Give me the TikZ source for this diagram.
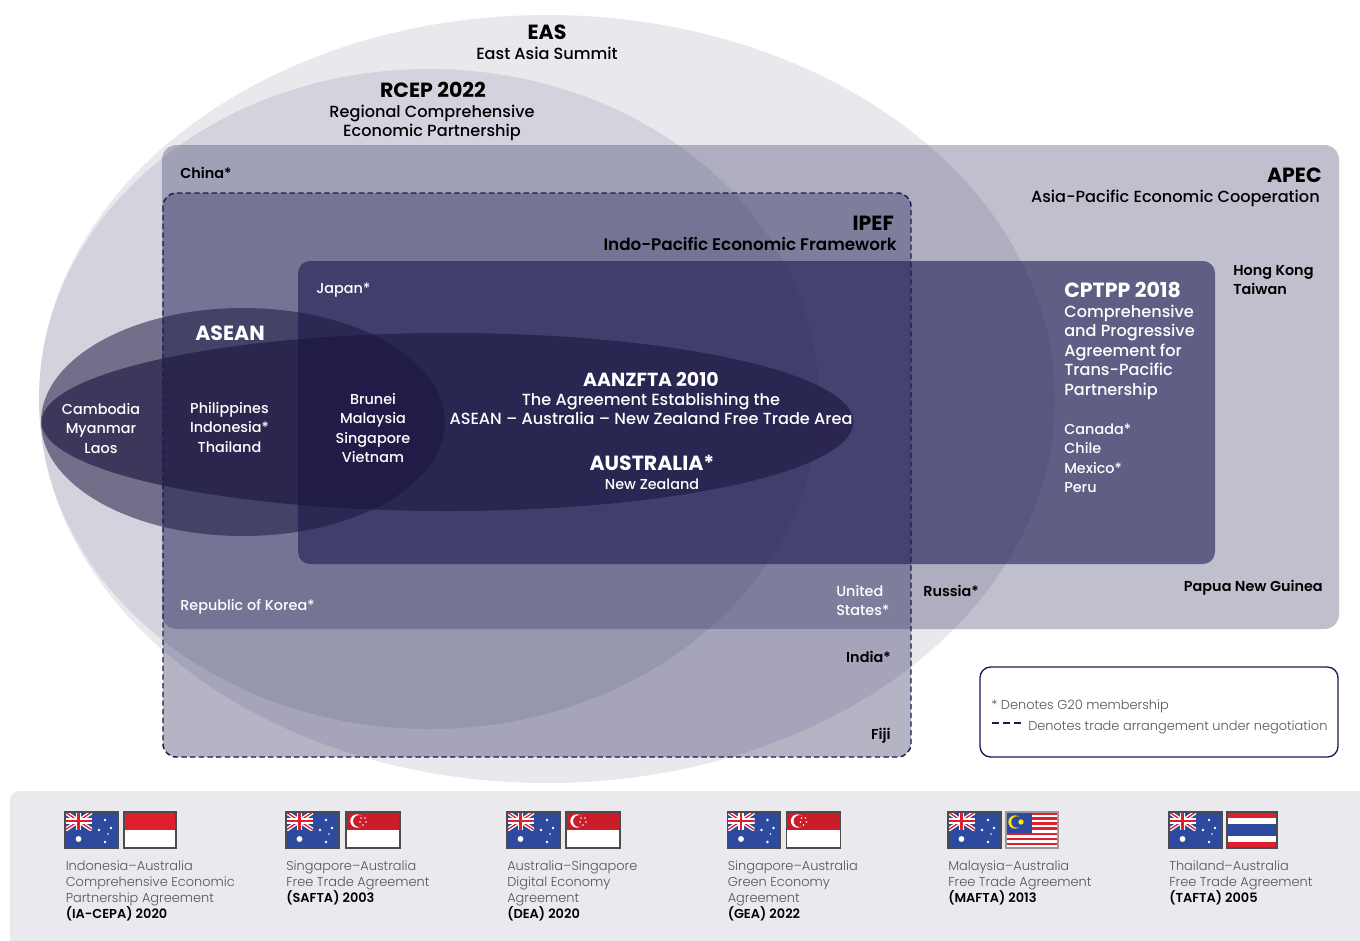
\documentclass[tikz,border=0pt]{standalone}
\usepackage{fontspec}
\setmainfont{Poppins}
\newfontfamily\medfont{Poppins Medium}
\newfontfamily\lightfont{Poppins Light}
\newfontfamily\semifont{Poppins SemiBold}

\definecolor{navy}{HTML}{1B1A50}
\definecolor{deepnavy}{HTML}{1B1640}
\definecolor{stripgrey}{HTML}{E9E9EE}
\definecolor{flagblue}{HTML}{2E4A9E}
\definecolor{flagred}{HTML}{E01F2D}
\definecolor{greytext}{HTML}{555555}

\tikzset{
  title/.style={font=\fontsize{15.4}{17}\bfseries, inner sep=0pt},
  subtitle/.style={font=\fontsize{12.1}{14.6}\medfont, inner sep=0pt, align=center},
  member/.style={font=\fontsize{10.8}{14.6}\medfont, inner sep=0pt, align=center},
  blackmember/.style={member, font=\fontsize{10.8}{14.6}\semifont, text=black},
  whitemember/.style={member, text=white},
  deal/.style={font=\fontsize{9.7}{12.2}\lightfont, inner sep=0pt, align=left, anchor=north west, text=greytext},
  flagedge/.style={draw=black!70, line width=0.8pt}
}

% Flags, corner at top left, 53 by 36
\newcommand{\ausflag}[2]{
  \begin{scope}[shift={(#1,#2)}]
    \fill[flagblue] (0,0) rectangle (53,36);
    \begin{scope}
      \clip (0,0) rectangle (27,18);
      \draw[white, line width=3pt] (0,0) -- (27,18) (0,18) -- (27,0);
      \draw[flagred, line width=1pt] (0,0) -- (27,18) (0,18) -- (27,0);
      \draw[white, line width=4pt] (13.5,0) -- (13.5,18) (0,9) -- (27,9);
      \draw[flagred, line width=2.2pt] (13.5,0) -- (13.5,18) (0,9) -- (27,9);
    \end{scope}
    \fill[white] (13.5,27) circle (2.2pt);
    \fill[white] (40,8) circle (1.1pt) (40,30) circle (1.1pt) (34,18) circle (1.1pt) (46,16) circle (1.1pt) (43,22) circle (0.6pt);
    \draw[flagedge] (0,0) rectangle (53,36);
  \end{scope}
}
\newcommand{\idflag}[2]{
  \begin{scope}[shift={(#1,#2)}]
    \fill[flagred] (0,0) rectangle (52,18);
    \fill[white] (0,18) rectangle (52,36);
    \draw[flagedge] (0,0) rectangle (52,36);
  \end{scope}
}
\newcommand{\sgflag}[2]{
  \begin{scope}[shift={(#1,#2)}]
    \fill[flagred!90!black] (0,0) rectangle (54,18);
    \fill[white] (0,18) rectangle (54,36);
    \fill[white] (11,9) circle (5pt);
    \fill[flagred!90!black] (13,9) circle (4.4pt);
    \fill[white] (15,6) circle (0.7pt) (19,6) circle (0.7pt) (14,10) circle (0.7pt) (20,10) circle (0.7pt) (17,13) circle (0.7pt);
    \draw[flagedge] (0,0) rectangle (54,36);
  \end{scope}
}
\newcommand{\myflag}[2]{
  \begin{scope}[shift={(#1,#2)}]
    \fill[white] (0,0) rectangle (52,36);
    \foreach \i in {0,2,...,12} {
      \fill[flagred] (0,{\i*36/14}) rectangle (52,{(\i+1)*36/14});
    }
    \fill[flagblue] (0,0) rectangle (26,20.5);
    \fill[yellow!90!orange] (9,10) circle (5pt);
    \fill[flagblue] (11,10) circle (4.3pt);
    \fill[yellow!90!orange] (15,10) circle (2pt);
    \draw[flagedge, draw=black!40] (0,0) rectangle (52,36);
  \end{scope}
}
\newcommand{\thflag}[2]{
  \begin{scope}[shift={(#1,#2)}]
    \fill[flagred] (0,0) rectangle (50,36);
    \fill[white] (0,6) rectangle (50,30);
    \fill[flagblue] (0,12) rectangle (50,24);
    \draw[flagedge] (0,0) rectangle (50,36);
  \end{scope}
}

\begin{document}
\begin{tikzpicture}[x=0.75pt, y=-0.75pt]
\useasboundingbox (0,0) rectangle (1360,940);

% Sets
\fill[navy, opacity=0.1] (547,399) ellipse [x radius=508, y radius=384];
\fill[navy, opacity=0.1] (429,399) ellipse [x radius=390, y radius=330];
\fill[navy, opacity=0.28, rounded corners=11pt] (162,145) rectangle (1339,629);
\fill[navy, opacity=0.33, rounded corners=10pt] (163,193) rectangle (911,757);
\fill[navy, opacity=0.59, rounded corners=9pt] (298,261) rectangle (1215,564);
\fill[deepnavy, opacity=0.53] (243,422) ellipse [x radius=202, y radius=114];
\fill[deepnavy, opacity=0.62] (447.5,422) ellipse [x radius=406, y radius=89];
\draw[navy, line width=1.1pt, dash pattern=on 4pt off 2.5pt, rounded corners=10pt] (163,193) rectangle (911,757);

% EAS
\node[title] (eas) at (547,32) {EAS};
\node[subtitle] (eastext) at (547,53) {East Asia Summit};

% RCEP
\node[title] (rcep) at (433,90) {RCEP 2022};
\node[subtitle] (rceptext) at (432,123) {Regional Comprehensive\\Economic Partnership};
\node[blackmember, anchor=west] (china) at (180,173) {China*};

% APEC
\node[title, anchor=east] (apec) at (1322,175) {APEC};
\node[subtitle, anchor=east] (apectext) at (1320,198) {Asia-Pacific Economic Cooperation};
\node[blackmember, anchor=west, align=left] (hongkong) at (1233,280) {Hong Kong\\Taiwan};
\node[blackmember, anchor=east] (png) at (1323,587.5) {Papua New Guinea};
\node[blackmember, anchor=west] (russia) at (923,591) {Russia*};

% IPEF
\node[title, anchor=east] (ipef) at (894,223) {IPEF};
\node[subtitle, anchor=east, font=\fontsize{12.6}{14.6}\semifont] (ipeftext) at (897,244) {Indo-Pacific Economic Framework};
\node[whitemember, anchor=west] (korea) at (180,607) {Republic of Korea*};
\node[whitemember, anchor=west, align=left] (usa) at (836,600.5) {United\\States*};
\node[blackmember, anchor=east] (india) at (891,657) {India*};
\node[blackmember, anchor=east] (fiji) at (891,735.5) {Fiji};

% CPTPP
\node[title, anchor=west, text=white] (cptpp) at (1064,290) {CPTPP 2018};
\node[subtitle, anchor=west, align=left, text=white] (cptpptext) at (1064,352) {Comprehensive\\and Progressive\\Agreement for\\Trans-Pacific\\Partnership};
\node[whitemember, anchor=west, align=left] (canada) at (1064,458) {Canada*\\Chile\\Mexico*\\Peru};
\node[whitemember, anchor=west] (japan) at (316,290) {Japan*};

% ASEAN
\node[title, text=white] (asean) at (230,333) {ASEAN};
\node[whitemember] (cambodia) at (101,428.5) {Cambodia\\Myanmar\\Laos};
\node[whitemember] (philippines) at (229.5,427.5) {Philippines\\Indonesia*\\Thailand};
\node[whitemember] (brunei) at (373,428) {Brunei\\Malaysia\\Singapore\\Vietnam};

% AANZFTA
\node[title, text=white, font=\fontsize{14.2}{17}\bfseries] (aanzfta) at (651,379) {AANZFTA 2010};
\node[subtitle, text=white] (aanzftatext) at (651,409) {The Agreement Establishing the\\ASEAN – Australia – New Zealand Free Trade Area};
\node[title, text=white] (australia) at (652,463) {AUSTRALIA*};
\node[whitemember] (newzealand) at (652,484) {New Zealand};

% Legend
\draw[navy, line width=1pt, fill=white, rounded corners=8pt] (980,667) rectangle (1338,757);
\node[deal, anchor=west] (gtwenty) at (991,706) {* Denotes G20 membership};
\coordinate (dashstart) at (992,723);
\coordinate (dashend) at (1021,723);
\draw[navy, line width=1.1pt, dash pattern=on 5.2pt off 3pt] (dashstart) -- (dashend);
\node[deal, anchor=west] (underneg) at (1028,727) {Denotes trade arrangement under negotiation};

% Strip of agreements
\fill[stripgrey, rounded corners=7pt] (10,791) rectangle (1375,960);

\ausflag{65}{812}
\idflag{124}{812}
\node[deal] (iacepa) at (65.5,860) {Indonesia–Australia\\Comprehensive Economic\\Partnership Agreement\\{\semifont\color{black}(IA-CEPA) 2020}};

\ausflag{286}{812}
\sgflag{346}{812}
\node[deal] (safta) at (286,860) {Singapore–Australia\\Free Trade Agreement\\{\semifont\color{black}(SAFTA) 2003}};

\ausflag{507}{812}
\sgflag{566}{812}
\node[deal] (dea) at (507,860) {Australia–Singapore\\Digital Economy\\Agreement\\{\semifont\color{black}(DEA) 2020}};

\ausflag{727.5}{812}
\sgflag{786.5}{812}
\node[deal] (gea) at (727.5,860) {Singapore–Australia\\Green Economy\\Agreement\\{\semifont\color{black}(GEA) 2022}};

\ausflag{948}{812}
\myflag{1006}{812}
\node[deal] (mafta) at (948,860) {Malaysia–Australia\\Free Trade Agreement\\{\semifont\color{black}(MAFTA) 2013}};

\ausflag{1169}{812}
\thflag{1227}{812}
\node[deal] (tafta) at (1169,860) {Thailand–Australia\\Free Trade Agreement\\{\semifont\color{black}(TAFTA) 2005}};

\end{tikzpicture}
\end{document}
